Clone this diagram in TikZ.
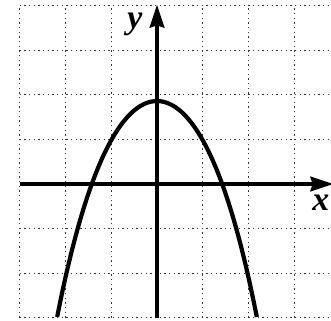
\documentclass[tikz,border=0pt]{standalone}
\usepackage{fontspec}
\setmainfont{Liberation Serif}
\usetikzlibrary{arrows.meta}
\begin{document}
\begin{tikzpicture}[x=1cm,y=0.9738cm,
  gridline/.style={black!80,line width=0.8pt,dash pattern=on 0.8pt off 2.1pt},
  axisline/.style={line width=2.1pt,-{Stealth[length=0.5cm,width=0.32cm,inset=0.05cm]}},
  curveline/.style={line width=2.6pt},
  axlabel/.style={font=\fontsize{21}{21}\selectfont\bfseries\itshape,inner sep=0pt}]
\clip (-3.428,-3.07) rectangle (3.80,4.126);
\useasboundingbox (-3.428,-3.07) rectangle (3.80,4.126);
% grid
\foreach \i in {-3,...,3} \draw[gridline] (\i,-3) -- (\i,4);
\foreach \j in {-3,...,4} \draw[gridline] (-3,\j) -- (3.9,\j);
% axes
\coordinate (xs) at (-3,0);
\coordinate (xe) at (3.85,0);
\coordinate (ys) at (0,-3);
\coordinate (ye) at (0,4.02);
\draw[axisline] (xs) -- (xe);
\draw[axisline] (ys) -- (ye);
% curve
\draw[curveline,domain=-2.18:2.18,samples=120,smooth]
  plot (\x,{1.86-0.843*\x*\x-0.037*\x*\x*\x*\x});
% labels
\node[axlabel] (ylab) at (-0.48,3.57) {y};
\node[axlabel] (xlab) at (3.58,-0.43) {x};
\end{tikzpicture}
\end{document}
